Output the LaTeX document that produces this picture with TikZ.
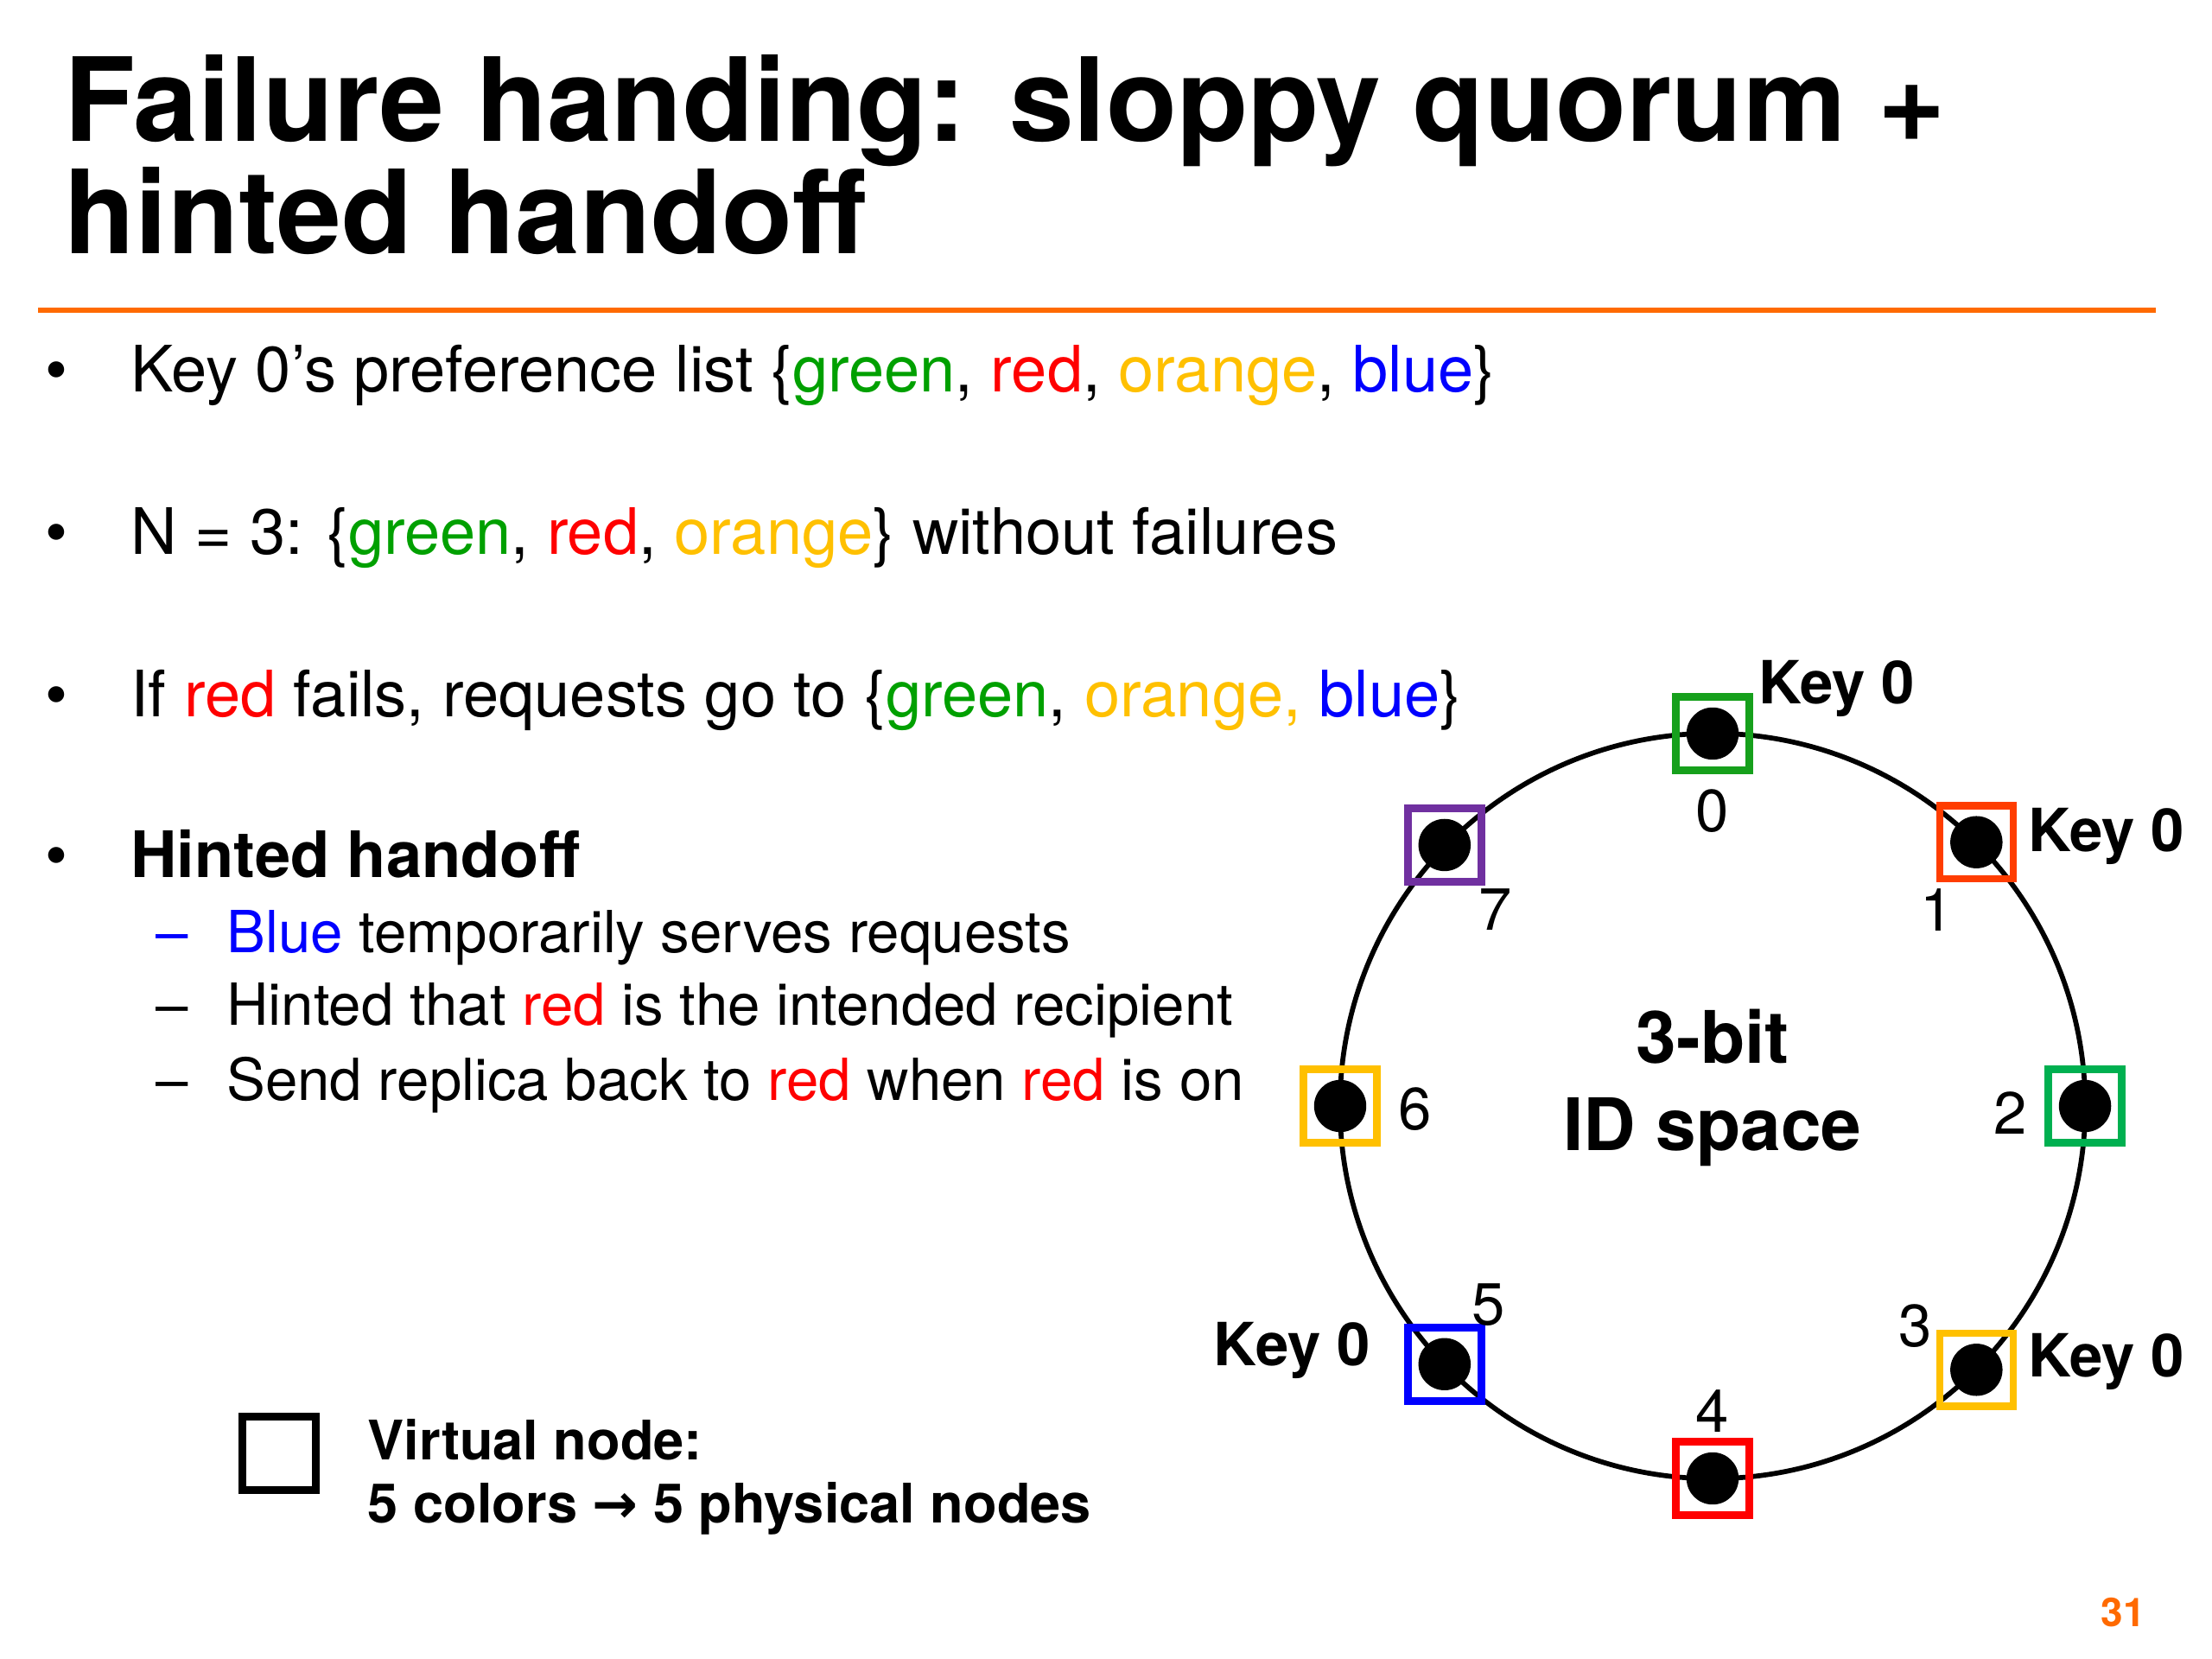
\documentclass[tikz,border=0pt]{standalone}
\usepackage{fontspec}
\setmainfont{TeX Gyre Heros}
\newfontfamily\arrowfont{DejaVu Sans}
\usetikzlibrary{positioning}
\definecolor{kgreen}{HTML}{00A000}
\definecolor{kred}{HTML}{FF0000}
\definecolor{korange}{HTML}{FFC000}
\definecolor{kblue}{HTML}{0000FF}
\definecolor{vgreen}{HTML}{16A01C}
\definecolor{vteal}{HTML}{00B050}
\definecolor{vtomato}{HTML}{FF3D00}
\definecolor{vpurple}{HTML}{7030A0}
\definecolor{slideorange}{HTML}{FF6A00}
\newcommand{\tgreen}[1]{\textcolor{kgreen}{#1}}
\newcommand{\tred}[1]{\textcolor{kred}{#1}}
\newcommand{\torange}[1]{\textcolor{korange}{#1}}
\newcommand{\tblue}[1]{\textcolor{kblue}{#1}}

\begin{document}
\begin{tikzpicture}[
  x=0.01cm, y=-0.01cm,
  title/.style={anchor=base west, inner sep=0pt, font=\fontsize{23.4}{24}\selectfont\bfseries},
  txt/.style={anchor=base west, inner sep=0pt, font=\fontsize{12.9}{15}\selectfont},
  sub/.style={anchor=base west, inner sep=0pt, font=\fontsize{11.7}{14}\selectfont},
  bul/.style={anchor=base, inner sep=0pt, font=\fontsize{12.9}{15}\selectfont},
  vnode/.style={draw, line width=1.5pt, minimum size=0.52cm, inner sep=0pt},
  dot/.style={circle, fill=black, minimum size=0.37cm, inner sep=0pt},
  num/.style={inner sep=0pt, font=\fontsize{12}{14}\selectfont},
  keylbl/.style={inner sep=0pt, font=\fontsize{12}{14}\selectfont\bfseries}
]
\useasboundingbox (0,0) rectangle (1568,1176);

% title
\node[title] (title1) at (45,100) {Failure handing: sloppy quorum +};
\node[title] (title2) at (45,180) {hinted handoff};
\draw[slideorange, line width=1pt] (27,220) -- (1528,220);

% bullets
\node[bul] (b1) at (40,278) {•};
\node[txt] (l1) at (92,278) {Key 0’s preference list \{\tgreen{green}, \tred{red}, \torange{orange}, \tblue{blue}\}};
\node[bul] (b2) at (40,393) {•};
\node[txt] (l2) at (92,393) {N = 3: \{\tgreen{green}, \tred{red}, \torange{orange}\} without failures};
\node[bul] (b3) at (40,508) {•};
\node[txt] (l3) at (92,508) {If \tred{red} fails, requests go to \{\tgreen{green}, \torange{orange,} \tblue{blue}\}};
\node[bul] (b4) at (40,622) {•};
\node[txt, font=\fontsize{12.9}{15}\selectfont\bfseries] (l4) at (92,622) {Hinted handoff};
\node[sub, kblue] (d1) at (110,675) {–};
\node[sub] (s1) at (160,675) {\tblue{Blue} temporarily serves requests};
\node[sub] (d2) at (110,727) {–};
\node[sub] (s2) at (160,727) {Hinted that \tred{red} is the intended recipient};
\node[sub] (d3) at (110,780) {–};
\node[sub] (s3) at (160,780) {Send replica back to \tred{red} when \tred{red} is on};

% ring
\node[inner sep=0pt] (ctr) at (1214,784) {};
\draw[line width=1pt] (ctr) circle[radius=2.64cm];
\node[align=center, inner sep=0pt, font=\fontsize{14.6}{17.6}\selectfont\bfseries] (idspace) at (1214,771) {3-bit\\ID space};

\node[vnode, vgreen] (v0) at (1214,520) {};
\node[vnode, vtomato] (v1) at (1401,597) {};
\node[vnode, vteal] (v2) at (1478,784) {};
\node[vnode, korange] (v3) at (1401,971) {};
\node[vnode, kred] (v4) at (1214,1048) {};
\node[vnode, kblue] (v5) at (1024,967) {};
\node[vnode, korange] (v6) at (950,784) {};
\node[vnode, vpurple] (v7) at (1024,599) {};

\node[dot] at (v0) {};
\node[dot] at (v1) {};
\node[dot] at (v2) {};
\node[dot] at (v3) {};
\node[dot] at (v4) {};
\node[dot] at (v5) {};
\node[dot] at (v6) {};
\node[dot] at (v7) {};

\node[num] (n0) at (1214,575) {0};
\node[num] (n1) at (1373,645) {1};
\node[num] (n2) at (1425,789) {2};
\node[num] (n3) at (1358,940) {3};
\node[num] (n4) at (1214,1000) {4};
\node[num] (n5) at (1055,925) {5};
\node[num] (n6) at (1003,786) {6};
\node[num] (n7) at (1060,645) {7};

\node[keylbl] (k0) at (1302,488) {Key 0};
\node[keylbl] (k1) at (1493,593) {Key 0};
\node[keylbl] (k3) at (1493,965) {Key 0};
\node[keylbl] (k5) at (916,957) {Key 0};

% legend
\node[draw, line width=1.6pt, minimum size=0.52cm, inner sep=0pt] (legbox) at (198,1030) {};
\node[anchor=west, align=left, inner sep=0pt, font=\fontsize{11}{12.8}\selectfont\bfseries] (legtext) at (260,1047) {Virtual node:\\5 colors {\arrowfont\bfseries →} 5 physical nodes};

\node[inner sep=0pt, text=slideorange, font=\fontsize{8}{9}\selectfont\bfseries] (page) at (1505,1143) {31};
\end{tikzpicture}
\end{document}
